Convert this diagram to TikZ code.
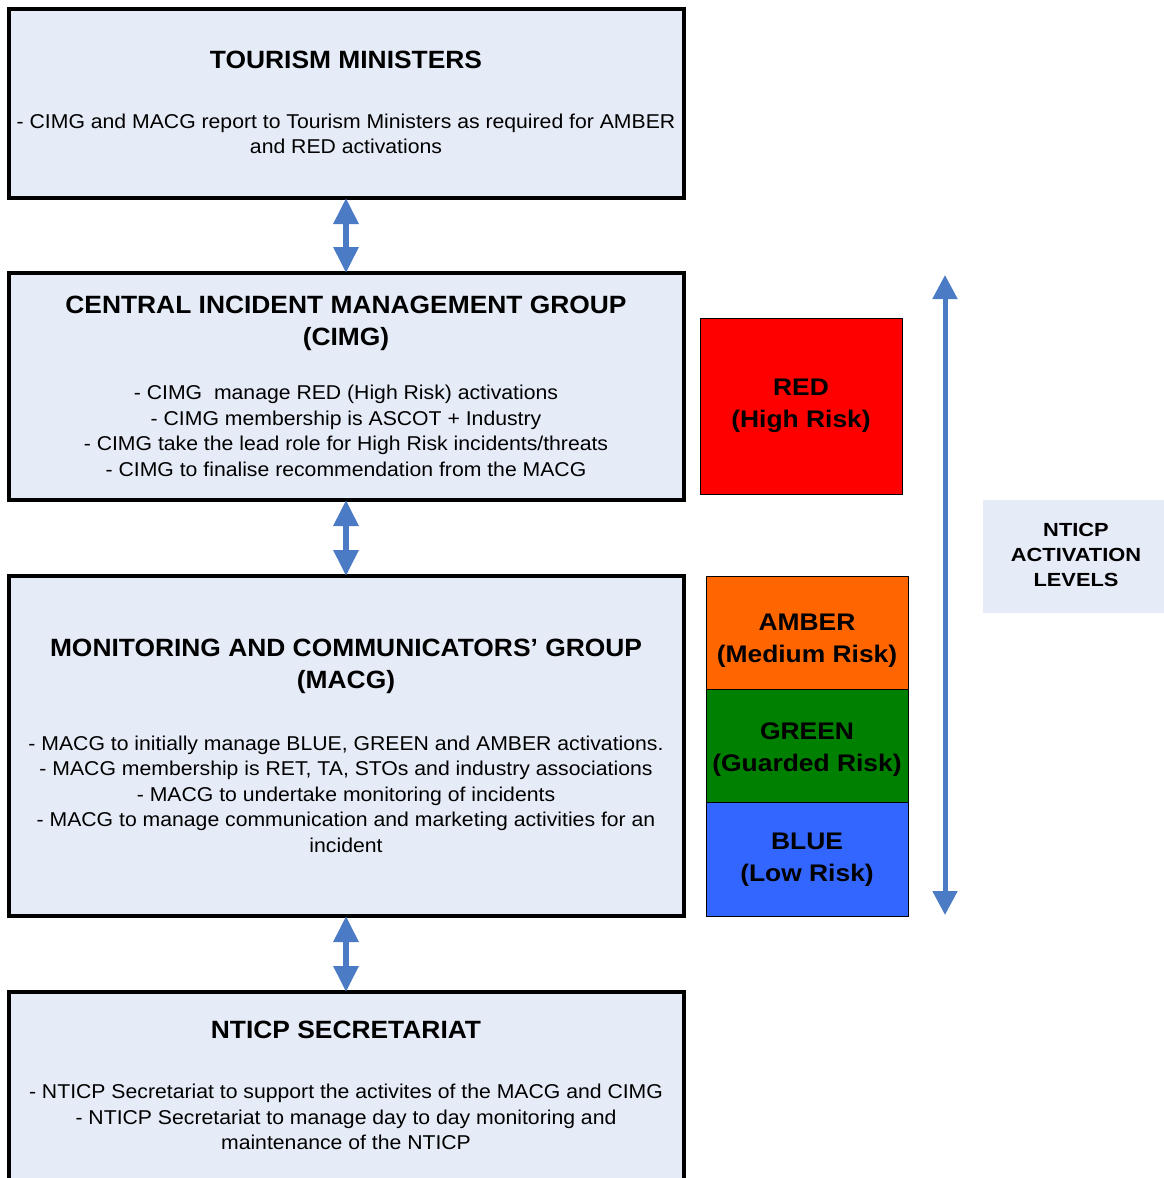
\documentclass[tikz,border=0pt]{standalone}
\usepackage{fontspec}
\setmainfont{Liberation Sans}
\newfontfamily\titlefont{Liberation Sans}[FakeStretch=1.055]
\newfontfamily\bodyfont{Liberation Sans}[FakeStretch=1.06]
\newfontfamily\levelfont{Liberation Sans}[FakeStretch=1.1]
\newfontfamily\labelfont{Liberation Sans}[FakeStretch=1.15]
\usetikzlibrary{arrows.meta}
\definecolor{boxfill}{HTML}{E6ECF7}
\definecolor{arrowblue}{HTML}{4A7BC4}
\definecolor{redlvl}{HTML}{FF0000}
\definecolor{amberlvl}{HTML}{FF6600}
\definecolor{greenlvl}{HTML}{008000}
\definecolor{bluelvl}{HTML}{3366FF}
\begin{document}
\begin{tikzpicture}[x=1pt,y=-1pt,
  panel/.style={draw=black, line width=4pt, fill=boxfill, anchor=north west, inner sep=0, outer sep=0, minimum width=675pt},
  levelbox/.style={draw=black, line width=0.8pt, anchor=north west, inner sep=0, outer sep=0, minimum width=202pt},
  titletext/.style={align=center, font=\titlefont\bfseries\fontsize{25}{32}\selectfont, inner sep=0, text=black},
  bodytext/.style={align=center, font=\bodyfont\fontsize{20}{25.5}\selectfont, inner sep=0, text=black},
  leveltext/.style={align=center, font=\levelfont\bfseries\fontsize{24}{32}\selectfont, inner sep=0, text=black},
  labeltext/.style={align=center, font=\labelfont\bfseries\fontsize{19}{25}\selectfont, inner sep=0, text=black},
  link/.style={arrowblue, line width=6pt, {Triangle[width=24pt,length=26pt]}-{Triangle[width=24pt,length=26pt]}},
  scalearrow/.style={arrowblue, line width=5pt, {Triangle[width=24pt,length=24pt]}-{Triangle[width=24pt,length=24pt]}}
]
\clip (0,0) rectangle (1164,1178);

% panels
\node[panel, minimum height=189pt] (tm) at (9,9) {};
\node[panel, minimum height=227pt] (cimg) at (9,273) {};
\node[panel, minimum height=340pt] (macg) at (9,576) {};
\node[panel, minimum height=240pt] (sec) at (9,992) {};

% panel texts
\node[titletext] (tmtitle) at (346,60) {TOURISM MINISTERS};
\node[bodytext] (tmbody) at (346,134) {- CIMG and MACG report to Tourism Ministers as required for AMBER\\and RED activations};

\node[titletext] (cimgtitle) at (346,323) {CENTRAL INCIDENT MANAGEMENT GROUP\\(CIMG)};
\node[bodytext] (cimgbody) at (346,431) {- CIMG\ \ manage RED (High Risk) activations\\- CIMG membership is ASCOT + Industry\\- CIMG take the lead role for High Risk incidents/threats\\- CIMG to finalise recommendation from the MACG};

\node[titletext] (macgtitle) at (346,666) {MONITORING AND COMMUNICATORS’ GROUP\\(MACG)};
\node[bodytext] (macgbody) at (346,794) {- MACG to initially manage BLUE, GREEN and AMBER activations.\\- MACG membership is RET, TA, STOs and industry associations\\- MACG to undertake monitoring of incidents\\- MACG to manage communication and marketing activities for an\\incident};

\node[titletext] (sectitle) at (346,1030) {NTICP SECRETARIAT};
\node[bodytext] (secbody) at (346,1117) {- NTICP Secretariat to support the activites of the MACG and CIMG\\- NTICP Secretariat to manage day to day monitoring and\\maintenance of the NTICP};

% links
\draw[link] (tm.south -| tmtitle) -- (cimg.north -| tmtitle);
\draw[link] (cimg.south -| tmtitle) -- (macg.north -| tmtitle);
\draw[link] (macg.south -| tmtitle) -- (sec.north -| tmtitle);

% levels
\node[levelbox, fill=redlvl, minimum height=176pt] (red) at (700,318) {};
\node[levelbox, fill=amberlvl, minimum height=113pt] (amber) at (706,576) {};
\node[levelbox, fill=greenlvl, minimum height=113pt] (green) at (706,689) {};
\node[levelbox, fill=bluelvl, minimum height=114pt] (blue) at (706,802) {};

\node[leveltext] (redtxt) at (801,406) {RED\\(High Risk)};
\node[leveltext] (ambertxt) at (807,641) {AMBER\\(Medium Risk)};
\node[leveltext] (greentxt) at (807,750) {GREEN\\(Guarded Risk)};
\node[leveltext] (bluetxt) at (807,860) {BLUE\\(Low Risk)};

% scale arrow
\coordinate (scaletop) at (945,275);
\coordinate (scalebot) at (945,915);
\draw[scalearrow] (scalebot) -- (scaletop);

% label
\node[fill=boxfill, anchor=north west, inner sep=0, minimum width=181pt, minimum height=113pt] (lvlbox) at (983,500) {};
\node[labeltext] (lvltxt) at (1076,555) {NTICP\\ACTIVATION\\LEVELS};
\end{tikzpicture}
\end{document}
